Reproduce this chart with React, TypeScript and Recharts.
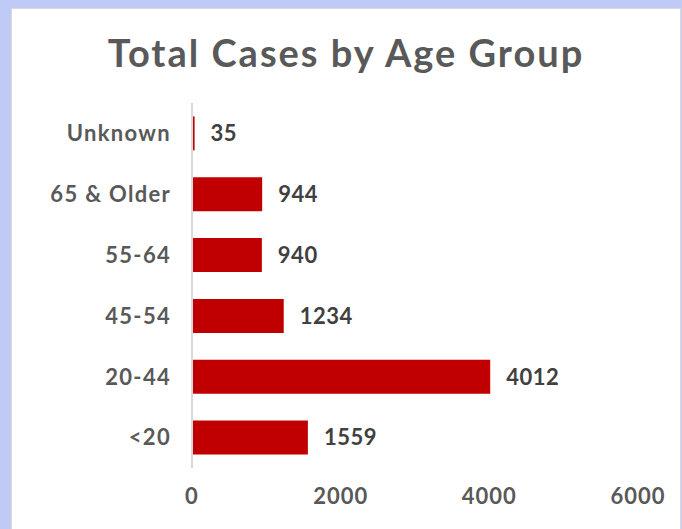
import { Bar, BarChart, LabelList, XAxis, YAxis } from 'recharts';

const ageGroups = ['Unknown', '65 & Older', '55-64', '45-54', '20-44', '<20'];
const totalCases = [35, 944, 940, 1234, 4012, 1559];
const xTicks = [0, 2000, 4000, 6000];

const chartData = ageGroups.map((group, i) => ({ group, cases: totalCases[i] }));

const FONT = 'Lato, "Open Sans", sans-serif';

export default function App() {
  return (
    <div
      style={{
        position: 'absolute',
        left: 0,
        top: 0,
        width: 682,
        height: 529,
        background: '#bfcaf7',
        overflow: 'hidden',
        fontFamily: FONT,
      }}
    >
      <div
        style={{
          position: 'absolute',
          left: 11,
          top: 8,
          width: 668,
          height: 530,
          background: '#ffffff',
          border: '1px solid #d9d9d9',
        }}
      />
      <div
        style={{
          position: 'absolute',
          left: 11,
          top: 27,
          width: 670,
          textAlign: 'center',
          fontSize: 38,
          lineHeight: '50px',
          fontWeight: 700,
          letterSpacing: 2,
          color: '#595959',
        }}
      >
        Total Cases by Age Group
      </div>
      <div style={{ position: 'absolute', left: 0, top: 0 }}>
        <BarChart
          width={682}
          height={529}
          data={chartData}
          layout="vertical"
          barCategoryGap="22%"
          margin={{ top: 103, right: 44, left: 0, bottom: 0 }}
        >
          <XAxis
            type="number"
            domain={[0, 6000]}
            ticks={xTicks}
            axisLine={false}
            tickLine={false}
            height={61}
            tickMargin={14}
            tick={{ fill: '#595959', fontSize: 22, fontWeight: 700, fontFamily: FONT, letterSpacing: 1 }}
          />
          <YAxis
            type="category"
            dataKey="group"
            width={192}
            tickLine={false}
            axisLine={{ stroke: '#d9d9d9', strokeWidth: 2 }}
            tickMargin={15}
            tick={{ fill: '#595959', fontSize: 22, fontWeight: 700, fontFamily: FONT, letterSpacing: 1.3 }}
          />
          <Bar dataKey="cases" fill="#c00000" isAnimationActive={false}>
            <LabelList
              dataKey="cases"
              position="right"
              offset={16}
              fill="#404040"
              style={{ fontSize: 22, fontWeight: 700, fontFamily: FONT, letterSpacing: 0.5 }}
            />
          </Bar>
        </BarChart>
      </div>
    </div>
  );
}
